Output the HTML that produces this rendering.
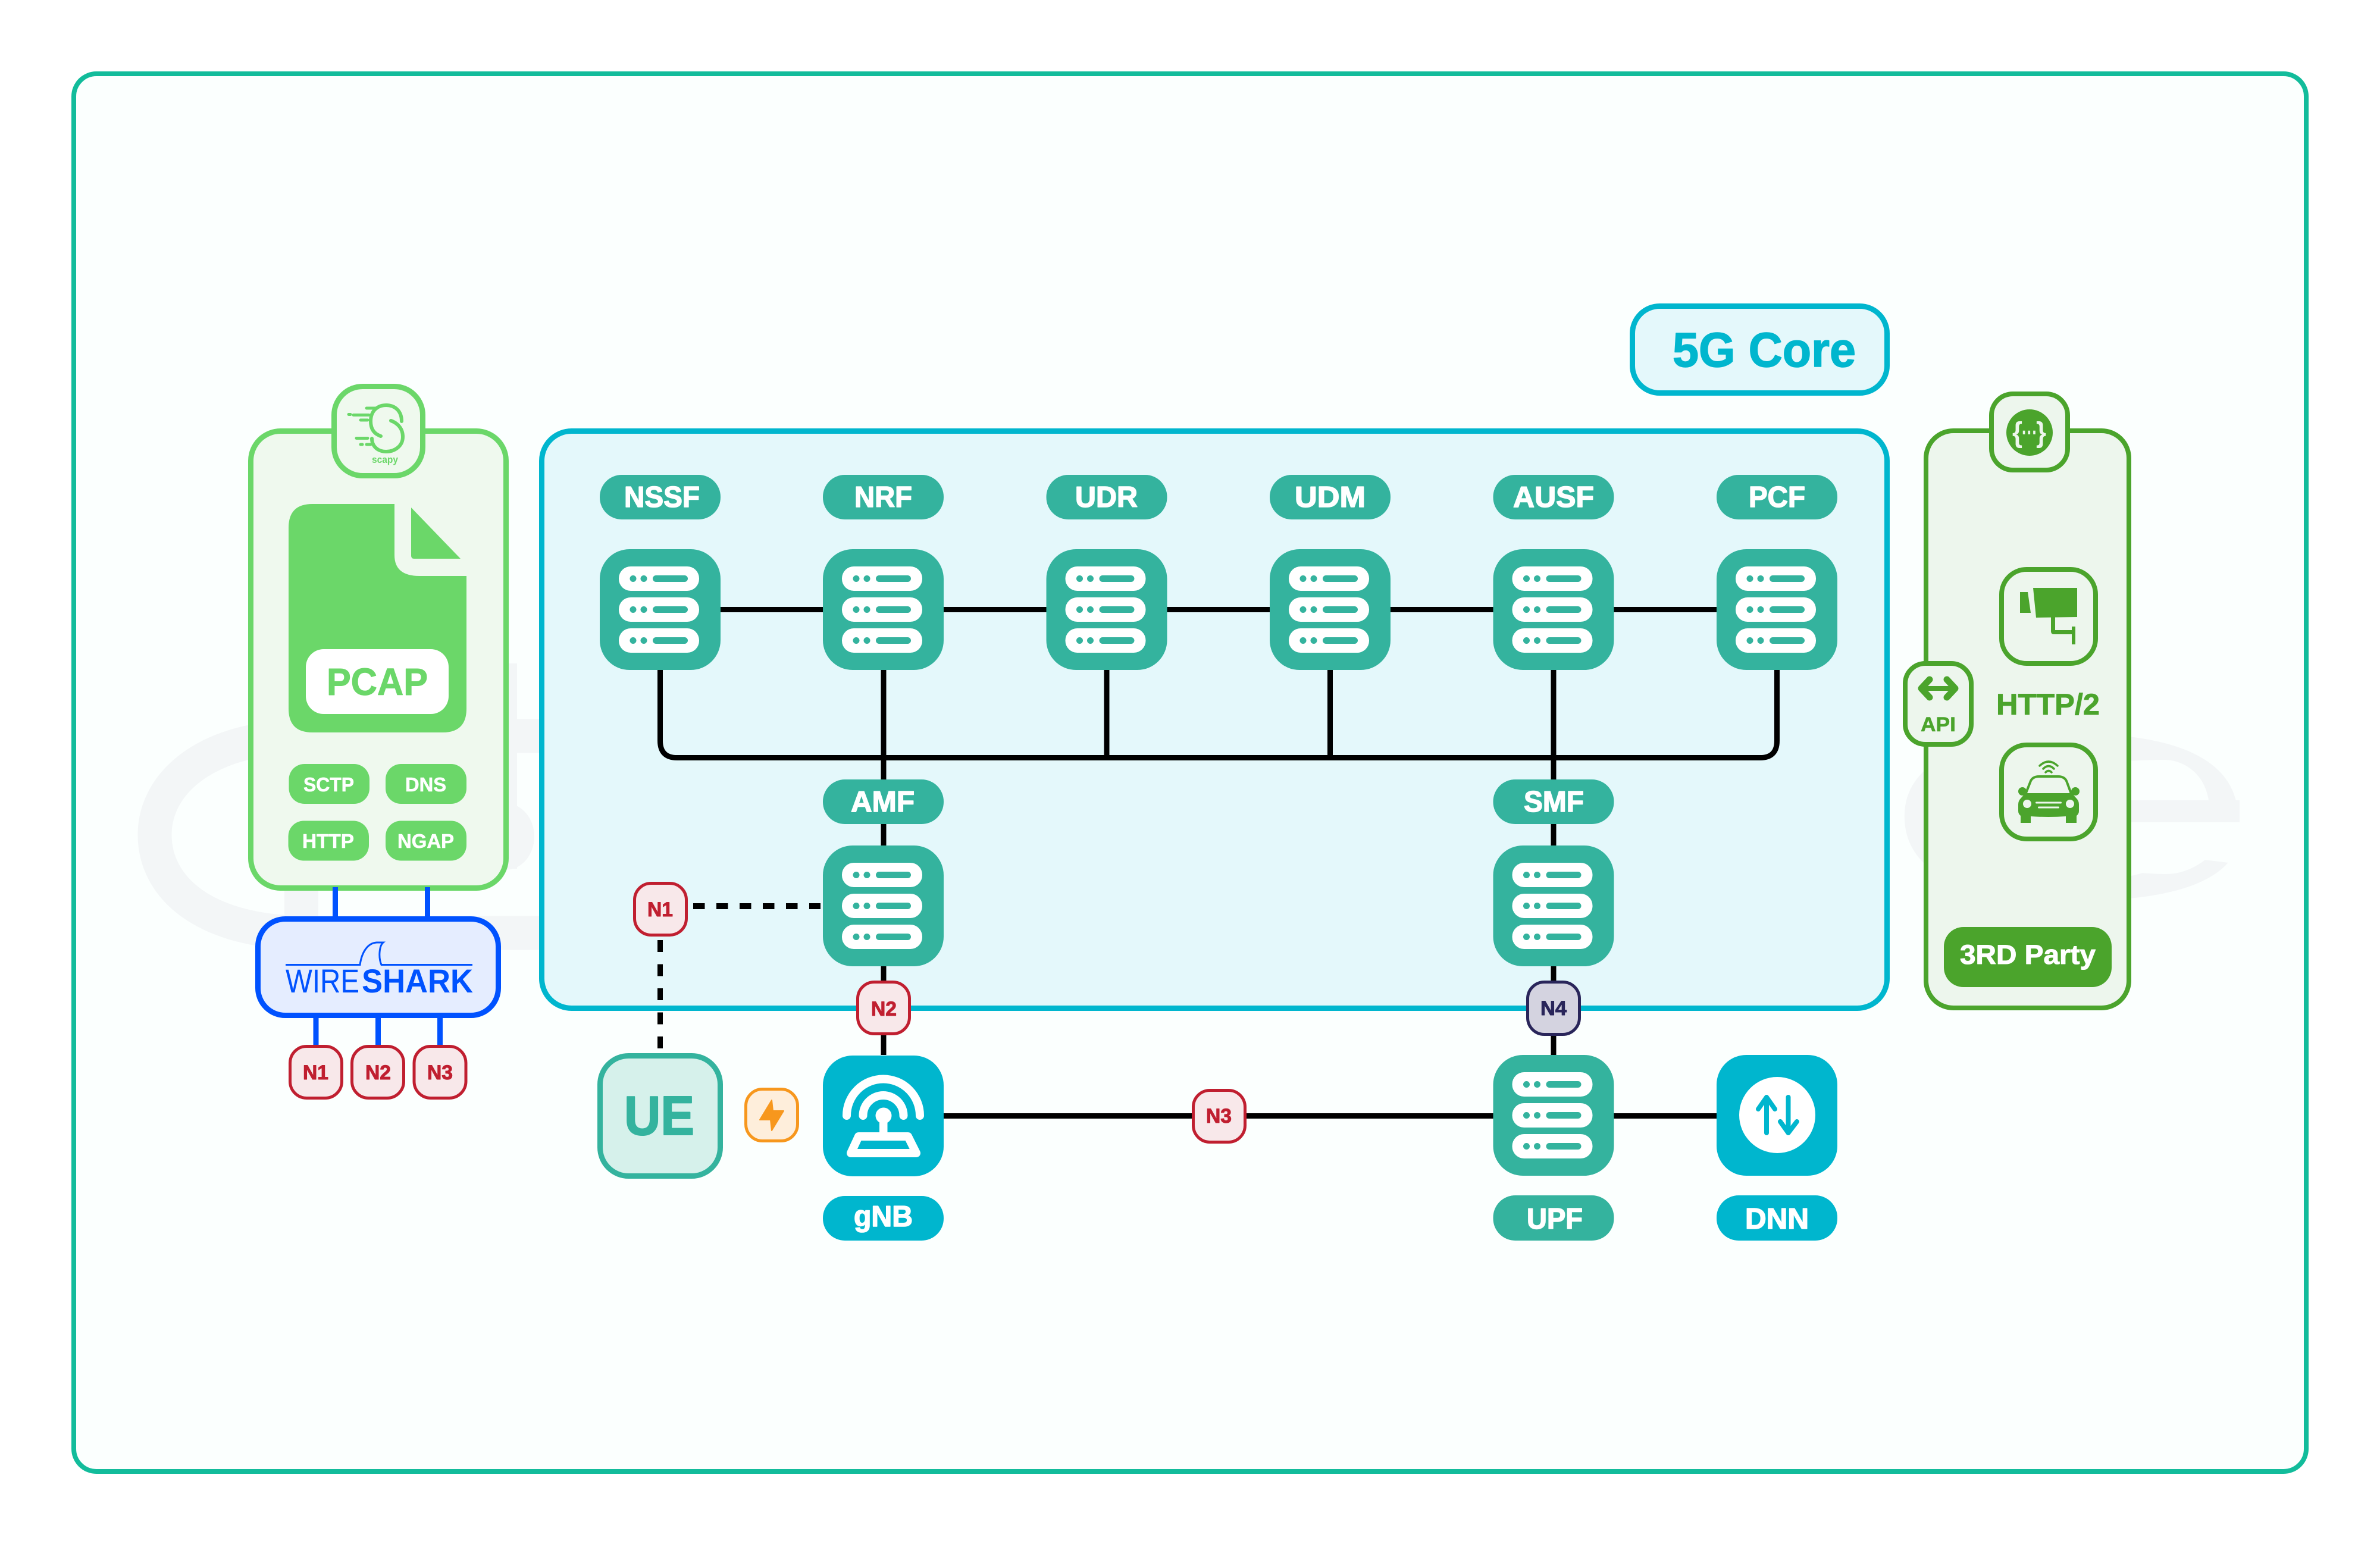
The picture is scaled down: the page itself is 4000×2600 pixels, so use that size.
<!DOCTYPE html>
<html><head><meta charset="utf-8"><title>5G Core</title>
<style>
html,body{margin:0;padding:0;background:#fff}
svg{display:block}
text{font-family:"Liberation Sans",sans-serif;font-weight:700;stroke-linejoin:round;paint-order:stroke}
.w{fill:#fff;stroke:#fff;stroke-width:1.5}
.r{fill:#c01f30;stroke:#c01f30;stroke-width:1}
.wm{fill:#f3f6f7}
</style></head>
<body>
<svg width="4000" height="2600" viewBox="0 0 4000 2600" xmlns="http://www.w3.org/2000/svg">
<defs>
<symbol id="srv" width="203" height="203" viewBox="0 0 203 203" overflow="visible">
<rect width="203" height="203" rx="50" fill="#34b39e"/>
<g fill="#fff"><rect x="32" y="29" width="135" height="41" rx="20"/><rect x="32" y="81" width="135" height="41" rx="20"/><rect x="32" y="133" width="135" height="41" rx="20"/></g>
<g fill="#34b39e">
<circle cx="56" cy="49.5" r="5.5"/><circle cx="74" cy="49.5" r="5.5"/><rect x="89" y="44" width="59" height="11" rx="5.5"/>
<circle cx="56" cy="101.5" r="5.5"/><circle cx="74" cy="101.5" r="5.5"/><rect x="89" y="96" width="59" height="11" rx="5.5"/>
<circle cx="56" cy="153.5" r="5.5"/><circle cx="74" cy="153.5" r="5.5"/><rect x="89" y="148" width="59" height="11" rx="5.5"/>
</g>
</symbol>
</defs>

<rect width="4000" height="2600" fill="#fff"/>
<rect x="124" y="124" width="3752" height="2349" rx="38" fill="#fbfffe" stroke="#12bc9b" stroke-width="8"/>

<!-- faint watermark -->
<path d="M906,1237 H520 C340,1237 260,1320 260,1403 C260,1490 340,1568 520,1568 H906" fill="none" stroke="#f3f6f7" stroke-width="57"/>
<rect class="wm" x="478" y="1480" width="57" height="70"/>
<rect class="wm" x="840" y="1115" width="29" height="345"/>
<ellipse class="wm" cx="850" cy="1406" rx="48" ry="56"/>
<text class="wm" style="font-weight:400;stroke:none" transform="translate(3150,1509) scale(2.33,1)" font-size="513">e</text>
<path d="M3300,1345 H3712 C3705,1300 3670,1277 3637,1277 C3560,1277 3400,1290 3300,1345Z" fill="#fbfffe"/>
<path d="M3300,1382 H3775 V1415 L3726,1427 C3700,1455 3670,1469 3640,1469 C3560,1469 3400,1440 3300,1382Z" fill="#fbfffe"/>
<rect class="wm" x="3240" y="1345" width="524" height="37"/>

<!-- left panel -->
<rect x="421.5" y="724.5" width="429" height="768" rx="50" fill="#eff9ee" stroke="#6bd769" stroke-width="9"/>
<rect x="561.5" y="649.5" width="149" height="150" rx="48" fill="#eff9ee" stroke="#6bd769" stroke-width="9"/>
<g fill="none" stroke="#6bd769" stroke-width="6" stroke-linecap="round">
<path d="M640,733 C628,729 623,720 623,708 C623,690 635,681 649,681 C663,681 675,690 675,708"/>
<path d="M657,707 C668,711 677,720 677,734 C677,750 663,759 649,759 C635,759 625,750 625,737"/>
<path d="M616,686 H630 M594,697.5 H620 M606,706 H618 M599,736.5 H618 M616,747 H623 M586,696.5 H589 M606,747 H609" stroke-width="5"/>
</g>
<text x="625" y="778" font-size="17" fill="#6bd769" textLength="44" lengthAdjust="spacingAndGlyphs">scapy</text>
<path d="M525,847 H663 V933 Q663,968 705,968 H784 V1191 Q784,1231 744,1231 H525 Q485,1231 485,1191 V887 Q485,847 525,847Z" fill="#6bd769"/>
<path d="M691,853 L774,939 H696 Q691,939 691,934Z" fill="#6bd769"/>
<rect x="514" y="1091" width="240" height="109" rx="30" fill="#fff"/>
<text x="549" y="1168" font-size="64" fill="#6bd769" stroke="#6bd769" stroke-width="1" textLength="170" lengthAdjust="spacingAndGlyphs">PCAP</text>
<g fill="#6bd769">
<rect x="485.5" y="1284" width="135.5" height="67" rx="26"/><rect x="648" y="1284" width="136" height="67" rx="26"/>
<rect x="484.5" y="1379.5" width="135.5" height="67" rx="26"/><rect x="648" y="1379.5" width="136" height="67" rx="26"/>
</g>
<g font-size="33">
<text class="w" style="stroke-width:.6" x="510" y="1330" textLength="85" lengthAdjust="spacingAndGlyphs">SCTP</text>
<text class="w" style="stroke-width:.6" x="681" y="1330" textLength="69" lengthAdjust="spacingAndGlyphs">DNS</text>
<text class="w" style="stroke-width:.6" x="508" y="1425" textLength="87" lengthAdjust="spacingAndGlyphs">HTTP</text>
<text class="w" style="stroke-width:.6" x="668" y="1425" textLength="95" lengthAdjust="spacingAndGlyphs">NGAP</text>
</g>

<!-- wireshark connectors + box -->
<g stroke="#0052ff" stroke-width="9">
<path d="M563.5,1491 V1545 M718.5,1491 V1545 M531,1706 V1762 M635.5,1706 V1760 M739.5,1706 V1760"/>
</g>
<rect x="433.5" y="1544.5" width="404" height="162" rx="46" fill="#e5edff" stroke="#0052ff" stroke-width="9"/>
<path d="M480,1621.5 H605 C608,1600 618,1585 633,1584 H644 C637,1590 636,1610 641,1621.5 H794" fill="none" stroke="#0052ff" stroke-width="3"/>
<text x="480" y="1668" font-size="56" fill="#0052ff" style="font-weight:400" textLength="124" lengthAdjust="spacingAndGlyphs">WIRE</text>
<text x="608" y="1668" font-size="56" fill="#0052ff" textLength="187" lengthAdjust="spacingAndGlyphs">SHARK</text>
<g fill="#f8e8ea" stroke="#c01f30" stroke-width="5">
<rect x="487.5" y="1758.5" width="87" height="87" rx="28"/>
<rect x="591.5" y="1758.5" width="87" height="87" rx="28"/>
<rect x="696" y="1758.5" width="87" height="87" rx="28"/>
</g>
<g font-size="34">
<text class="r" x="509" y="1814" textLength="43" lengthAdjust="spacingAndGlyphs">N1</text>
<text class="r" x="614" y="1814" textLength="43" lengthAdjust="spacingAndGlyphs">N2</text>
<text class="r" x="718" y="1814" textLength="43" lengthAdjust="spacingAndGlyphs">N3</text>
</g>

<!-- 5G Core label -->
<rect x="2743.5" y="514.5" width="428" height="146" rx="46" fill="#e4f8fb" stroke="#00b6ce" stroke-width="9"/>
<text x="2811" y="616" font-size="82" fill="#00b6ce" stroke="#00b6ce" stroke-width="1.5" textLength="308" lengthAdjust="spacingAndGlyphs">5G Core</text>

<!-- core -->
<rect x="910.5" y="724.5" width="2261" height="970" rx="50" fill="#e4f8fb" stroke="#00b6ce" stroke-width="9"/>

<!-- lines -->
<g fill="none" stroke="#000" stroke-width="9">
<path d="M1109.5,1024.5 H2987"/>
<path d="M1109.5,1126 V1245 Q1109.5,1273.5 1138,1273.5 H2958 Q2986.5,1273.5 2986.5,1245 V1126"/>
<path d="M1485,1126 V1430 M1860,1126 V1273 M2235.5,1126 V1273 M2611,1126 V1430"/>
<path d="M1485,1620 V1773 M2611,1620 V1780"/>
<path d="M1586,1875.5 H2890"/>
<path d="M1165,1523 H1379" stroke-width="10" stroke-dasharray="19.5 19.5"/>
<path d="M1109.5,1580 V1762" stroke-dasharray="20 20.5"/>
</g>

<!-- servers -->
<use href="#srv" x="1008" y="923" width="203" height="203"/>
<use href="#srv" x="1383" y="923" width="203" height="203"/>
<use href="#srv" x="1758.5" y="923" width="203" height="203"/>
<use href="#srv" x="2134" y="923" width="203" height="203"/>
<use href="#srv" x="2509.5" y="923" width="203" height="203"/>
<use href="#srv" x="2885" y="923" width="203" height="203"/>
<use href="#srv" x="1383" y="1421" width="203" height="203"/>
<use href="#srv" x="2509.5" y="1421" width="203" height="203"/>
<use href="#srv" x="2509.5" y="1773" width="203" height="203"/>

<!-- pills -->
<g fill="#34b39e">
<rect x="1008" y="798" width="203" height="75" rx="37"/>
<rect x="1383" y="798" width="203" height="75" rx="37"/>
<rect x="1758.5" y="798" width="203" height="75" rx="37"/>
<rect x="2134" y="798" width="203" height="75" rx="37"/>
<rect x="2509.5" y="798" width="203" height="75" rx="37"/>
<rect x="2885" y="798" width="203" height="75" rx="37"/>
<rect x="1383" y="1310" width="203" height="75" rx="37"/>
<rect x="2509.5" y="1310" width="203" height="75" rx="37"/>
<rect x="2509.5" y="2009" width="203" height="76" rx="37"/>
</g>
<g fill="#00b6ce">
<rect x="1383" y="2010" width="203" height="75" rx="37"/>
<rect x="2885" y="2009" width="203" height="76" rx="37"/>
</g>
<g font-size="49">
<text class="w" x="1049" y="852" textLength="127" lengthAdjust="spacingAndGlyphs">NSSF</text>
<text class="w" x="1436" y="852" textLength="97" lengthAdjust="spacingAndGlyphs">NRF</text>
<text class="w" x="1807" y="852" textLength="105" lengthAdjust="spacingAndGlyphs">UDR</text>
<text class="w" x="2176" y="852" textLength="119" lengthAdjust="spacingAndGlyphs">UDM</text>
<text class="w" x="2543" y="852" textLength="136" lengthAdjust="spacingAndGlyphs">AUSF</text>
<text class="w" x="2939" y="852" textLength="95" lengthAdjust="spacingAndGlyphs">PCF</text>
<text class="w" x="1430" y="1364" textLength="107" lengthAdjust="spacingAndGlyphs">AMF</text>
<text class="w" x="2561" y="1364" textLength="101" lengthAdjust="spacingAndGlyphs">SMF</text>
<text class="w" x="1435" y="2061" textLength="99" lengthAdjust="spacingAndGlyphs">gNB</text>
<text class="w" x="2566" y="2065" textLength="94" lengthAdjust="spacingAndGlyphs">UPF</text>
<text class="w" x="2933" y="2065" textLength="107" lengthAdjust="spacingAndGlyphs">DNN</text>
</g>

<!-- N badges -->
<g fill="#f8e8ea" stroke="#c01f30" stroke-width="5">
<rect x="1066.5" y="1484.5" width="87" height="87" rx="28"/>
<rect x="1441.5" y="1650.5" width="87" height="87" rx="28"/>
<rect x="2005.5" y="1832.5" width="87" height="87" rx="28"/>
</g>
<rect x="2567.5" y="1650.5" width="87" height="88" rx="28" fill="#d4d3e0" stroke="#29255a" stroke-width="5"/>
<g font-size="34">
<text class="r" x="1088" y="1540" textLength="43" lengthAdjust="spacingAndGlyphs">N1</text>
<text class="r" x="1464" y="1707" textLength="43" lengthAdjust="spacingAndGlyphs">N2</text>
<text class="r" x="2027" y="1887" textLength="43" lengthAdjust="spacingAndGlyphs">N3</text>
<text x="2589" y="1706" fill="#29255a" stroke="#29255a" stroke-width="1" textLength="44" lengthAdjust="spacingAndGlyphs">N4</text>
</g>

<!-- UE + bolt -->
<rect x="1008.5" y="1774.5" width="202" height="202" rx="48" fill="#d6f1eb" stroke="#34b39e" stroke-width="9"/>
<text x="1049" y="1907" font-size="93" fill="#34b39e" stroke="#34b39e" stroke-width="2" textLength="118" lengthAdjust="spacingAndGlyphs">UE</text>
<rect x="1253.5" y="1830.5" width="87" height="87" rx="28" fill="#feeedb" stroke="#f7971d" stroke-width="5"/>
<path d="M1297,1849 L1277,1882 H1295 L1297,1900 L1317,1867 H1299Z" fill="#f7971d" stroke="#f7971d" stroke-width="2" stroke-linejoin="round"/>

<!-- gNB -->
<rect x="1383" y="1774" width="203" height="203" rx="50" fill="#00b6ce"/>
<g fill="none" stroke="#fff" stroke-width="14" stroke-linecap="round" stroke-linejoin="round">
<path d="M1423,1875 A61.5,61.5 0 0 1 1546,1875"/>
<path d="M1450.5,1875 A34,34 0 0 1 1518.5,1875"/>
<path d="M1443,1910 H1526 L1540,1938 H1430Z"/>
</g>
<circle cx="1485" cy="1875" r="13.5" fill="#fff"/>
<rect x="1478" y="1885" width="13.5" height="20" fill="#fff"/>

<!-- DNN -->
<rect x="2885" y="1773" width="203" height="203" rx="50" fill="#00b6ce"/>
<circle cx="2987" cy="1874" r="64" fill="#fff"/>
<g fill="none" stroke="#00b6ce" stroke-width="8" stroke-linecap="round" stroke-linejoin="round">
<path d="M2969,1904 V1844 M2955,1864 L2969,1844 L2983,1864"/>
<path d="M3005.5,1844 V1904 M2992,1885 L3005.5,1904 L3020,1885"/>
</g>

<!-- right panel -->
<rect x="3237" y="724" width="341" height="970" rx="46" fill="#edf6ed" stroke="#4ba42c" stroke-width="8"/>
<rect x="3347" y="662" width="128" height="128" rx="36" fill="#edf6ed" stroke="#4ba42c" stroke-width="8"/>
<circle cx="3411" cy="727" r="39" fill="#4ba42c"/>
<g fill="#edf6ed">
<text x="3382" y="743" font-size="48" textLength="17" lengthAdjust="spacingAndGlyphs">{</text>
<text x="3398" y="741" font-size="42" textLength="26" lengthAdjust="spacingAndGlyphs">···</text>
<text x="3422" y="743" font-size="48" textLength="17" lengthAdjust="spacingAndGlyphs">}</text>
</g>

<rect x="3202" y="1115" width="111" height="136" rx="34" fill="#edf6ed" stroke="#4ba42c" stroke-width="8"/>
<g fill="none" stroke="#4ba42c" stroke-linecap="round" stroke-linejoin="round">
<path d="M3232,1157 H3283" stroke-width="8"/>
<path d="M3243,1142 L3229,1157 L3243,1172 M3272,1142 L3286,1157 L3272,1172" stroke-width="11"/>
</g>
<text x="3228" y="1229" font-size="34" fill="#4ba42c" stroke="#4ba42c" stroke-width=".6" textLength="59" lengthAdjust="spacingAndGlyphs">API</text>

<rect x="3364" y="957" width="158" height="158" rx="42" fill="#edf6ed" stroke="#4ba42c" stroke-width="8"/>
<g fill="#4ba42c">
<path d="M3395,995 H3408 L3413,1030 H3395Z"/>
<path d="M3417,988 H3491 V1037 L3422,1038Z"/>
<path d="M3447,1037 H3454 V1059 H3482 V1053 H3488 V1083 H3482 V1066 H3452 Q3447,1066 3447,1061Z"/>
</g>
<text x="3355" y="1201" font-size="50" fill="#4ba42c" stroke="#4ba42c" stroke-width=".8" textLength="174" lengthAdjust="spacingAndGlyphs">HTTP/2</text>

<rect x="3364" y="1252" width="158" height="158" rx="42" fill="#edf6ed" stroke="#4ba42c" stroke-width="8"/>
<g fill="none" stroke="#4ba42c" stroke-width="3.5" stroke-linecap="round">
<path d="M3428,1287 Q3443,1273 3458,1287"/>
<path d="M3434,1292 Q3443,1283 3452,1292"/>
<path d="M3438,1298 Q3443,1293 3448,1298"/>
</g>
<path d="M3404.5,1334 L3412,1315 Q3415,1305 3427,1305 H3459 Q3471,1305 3474,1315 L3481,1334" fill="none" stroke="#4ba42c" stroke-width="4"/>
<g fill="#4ba42c">
<ellipse cx="3399" cy="1330" rx="7" ry="7"/><ellipse cx="3488" cy="1330" rx="7" ry="7"/>
<path d="M3404,1333 H3482 L3490,1342 Q3494,1346 3494,1352 V1363 Q3494,1368 3490,1371 L3490,1383 H3472 V1372 Q3443,1374 3413,1372 V1383 H3396 V1371 Q3392,1368 3392,1363 V1352 Q3392,1346 3396,1342Z"/>
</g>
<g fill="#edf6ed">
<ellipse cx="3407" cy="1351" rx="7" ry="7"/><ellipse cx="3479" cy="1351" rx="7" ry="7"/>
<rect x="3421" y="1347.5" width="44" height="3" rx="1.5"/><rect x="3425" y="1355.5" width="36" height="3" rx="1.5"/>
</g>

<rect x="3267" y="1558" width="282" height="101" rx="33" fill="#4ba42c"/>
<text class="w" x="3294" y="1620" font-size="45" style="stroke-width:1" textLength="228" lengthAdjust="spacingAndGlyphs">3RD Party</text>
</svg>
</body></html>
